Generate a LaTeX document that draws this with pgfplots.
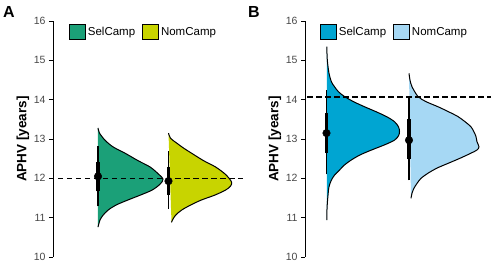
\documentclass[border=0pt]{standalone}
\usepackage{fontspec}
\setmainfont{Liberation Sans}
\usepackage{pgfplots}
\usepackage{pgfplotstable}
\pgfplotsset{compat=1.18}
\definecolor{selA}{RGB}{27,160,120}
\definecolor{nomA}{RGB}{200,212,0}
\definecolor{selB}{RGB}{0,165,210}
\definecolor{nomB}{RGB}{166,216,244}

% density half-violins: v = APHV, w = half width (pt)
\pgfplotstableread{
v w
13.28 0
13.15 1.5
12.97 7
12.80 15
12.64 27
12.45 40
12.29 52
12.12 60
11.98 65
11.85 62
11.70 54
11.57 42
11.45 30
11.32 18
11.19 10
11.06 5
10.94 2
10.76 0
}\tabSelA

\pgfplotstableread{
v w
13.15 0
13.02 2
12.90 8
12.77 15
12.64 23
12.45 35
12.29 47
12.10 57
11.91 63
11.80 62
11.70 57
11.57 46
11.45 33
11.32 22
11.19 13
11.06 7
10.94 4
10.88 3
}\tabNomA

\pgfplotstableread{
v w
15.35 0.3
15.01 0.8
14.67 2.5
14.45 5
14.33 8
14.20 12
14.08 18
13.95 27
13.82 38
13.70 49
13.57 60
13.44 68
13.31 72
13.19 73
13.08 72
12.97 68
12.85 58
12.72 45
12.60 34
12.47 25
12.34 18
12.21 13
12.08 8
11.96 5
11.83 3
11.70 2
11.28 0.6
10.94 0.3
}\tabSelB

\pgfplotstableread{
v w
14.67 0
14.50 1
14.33 3
14.08 9
13.95 17
13.82 29
13.70 39
13.57 49
13.44 56
13.31 62
13.18 65
13.06 67
12.93 68
12.80 70
12.72 68
12.64 62
12.51 51
12.38 39
12.26 28
12.13 19
12.00 12
11.87 8
11.75 5
11.62 3
11.49 2
}\tabNomB

\pgfplotsset{
  panel/.style={
    scale only axis, anchor=south west, height=236pt,
    ymin=10, ymax=16, ytick={10,11,...,16},
    axis x line=none, axis y line*=left,
    y axis line style={black, line width=0.8pt},
    tick align=outside, major tick length=4pt,
    ytick style={black, line width=0.8pt},
    /pgf/number format/assume math mode=true,
    yticklabel style={font=\fontsize{10.5}{11}\selectfont, text=black!72},
    ylabel={APHV [years]},
    every axis y label/.style={at={(axis description cs:0,0.5)}, xshift=-30pt, rotate=90, anchor=center, font=\bfseries\fontsize{13.5}{14}\selectfont},
    clip=false,
    legend columns=2,
    legend image code/.code={\draw[##1,draw=black,line width=0.8pt] (0pt,-7.5pt) rectangle (16pt,7.5pt);},
    legend style={draw=none, fill=none, inner sep=0pt, anchor=north west,
      font=\fontsize{11.5}{12}\selectfont,
      /tikz/every even column/.append style={column sep=5pt}},
  }
}

\begin{document}
\begin{tikzpicture}
\path[use as bounding box] (0,0) rectangle (491pt,264pt);
\node[font=\bfseries\fontsize{16}{16}\selectfont] at (9pt,252pt) {A};
\node[font=\bfseries\fontsize{16}{16}\selectfont] at (254pt,251.5pt) {B};

\begin{axis}[panel, at={(53pt,7pt)}, width=192pt, xmin=53, xmax=245,
  legend style={at={(axis description cs:0.083,1)}, yshift=-3pt}]
\addlegendimage{fill=selA}
\addlegendentry{SelCamp}
\addlegendimage{fill=nomA}
\addlegendentry{NomCamp}
\addplot[forget plot, draw=none, fill=selA, smooth] table[x expr=\thisrow{w}+98, y=v] \tabSelA;
\addplot[forget plot, black, line width=1pt, smooth] table[x expr=\thisrow{w}+98, y=v] \tabSelA;
\addplot[forget plot, draw=none, fill=nomA, smooth] table[x expr=\thisrow{w}+168.5, y=v] \tabNomA;
\addplot[forget plot, black, line width=1pt, smooth] table[x expr=\thisrow{w}+168.5, y=v] \tabNomA;
\addplot[forget plot, black, line width=1.4pt, dash pattern=on 5.5pt off 3.5pt] coordinates {(58,12) (243,12)};
\addplot[forget plot, black, line width=1.5pt] coordinates {(98,11.29) (98,12.82)};
\addplot[forget plot, black, line width=3.8pt] coordinates {(98,11.67) (98,12.41)};
\addplot[forget plot, only marks, mark=*, mark size=3.8pt, black] coordinates {(98,12.05)};
\addplot[forget plot, black, line width=1.5pt] coordinates {(168.5,11.22) (168.5,12.69)};
\addplot[forget plot, black, line width=3.8pt] coordinates {(168.5,11.57) (168.5,12.30)};
\addplot[forget plot, only marks, mark=*, mark size=3.8pt, black] coordinates {(168.5,11.93)};
\end{axis}

\begin{axis}[panel, at={(305pt,7pt)}, width=186pt, xmin=305, xmax=491,
  legend style={at={(axis description cs:0.08,1)}, yshift=-3pt}]
\addlegendimage{fill=selB}
\addlegendentry{SelCamp}
\addlegendimage{fill=nomB}
\addlegendentry{NomCamp}
\addplot[forget plot, draw=none, fill=selB, smooth] table[x expr=\thisrow{w}+326.5, y=v] \tabSelB;
\addplot[forget plot, black, line width=1pt, smooth] table[x expr=\thisrow{w}+326.5, y=v] \tabSelB;
\addplot[forget plot, draw=none, fill=nomB, smooth] table[x expr=\thisrow{w}+409, y=v] \tabNomB;
\addplot[forget plot, black, line width=1pt, smooth] table[x expr=\thisrow{w}+409, y=v] \tabNomB;
\addplot[forget plot, black, line width=1.4pt, dash pattern=on 5.5pt off 3.5pt] coordinates {(307,14.07) (491,14.07)};
\addplot[forget plot, black, line width=1.5pt] coordinates {(326.5,12.10) (326.5,14.24)};
\addplot[forget plot, black, line width=3.8pt] coordinates {(326.5,12.64) (326.5,13.66)};
\addplot[forget plot, only marks, mark=*, mark size=3.8pt, black] coordinates {(326.5,13.15)};
\addplot[forget plot, black, line width=1.5pt] coordinates {(409,11.95) (409,14.06)};
\addplot[forget plot, black, line width=3.8pt] coordinates {(409,12.49) (409,13.50)};
\addplot[forget plot, only marks, mark=*, mark size=3.8pt, black] coordinates {(409,12.97)};
\end{axis}
\end{tikzpicture}
\end{document}
